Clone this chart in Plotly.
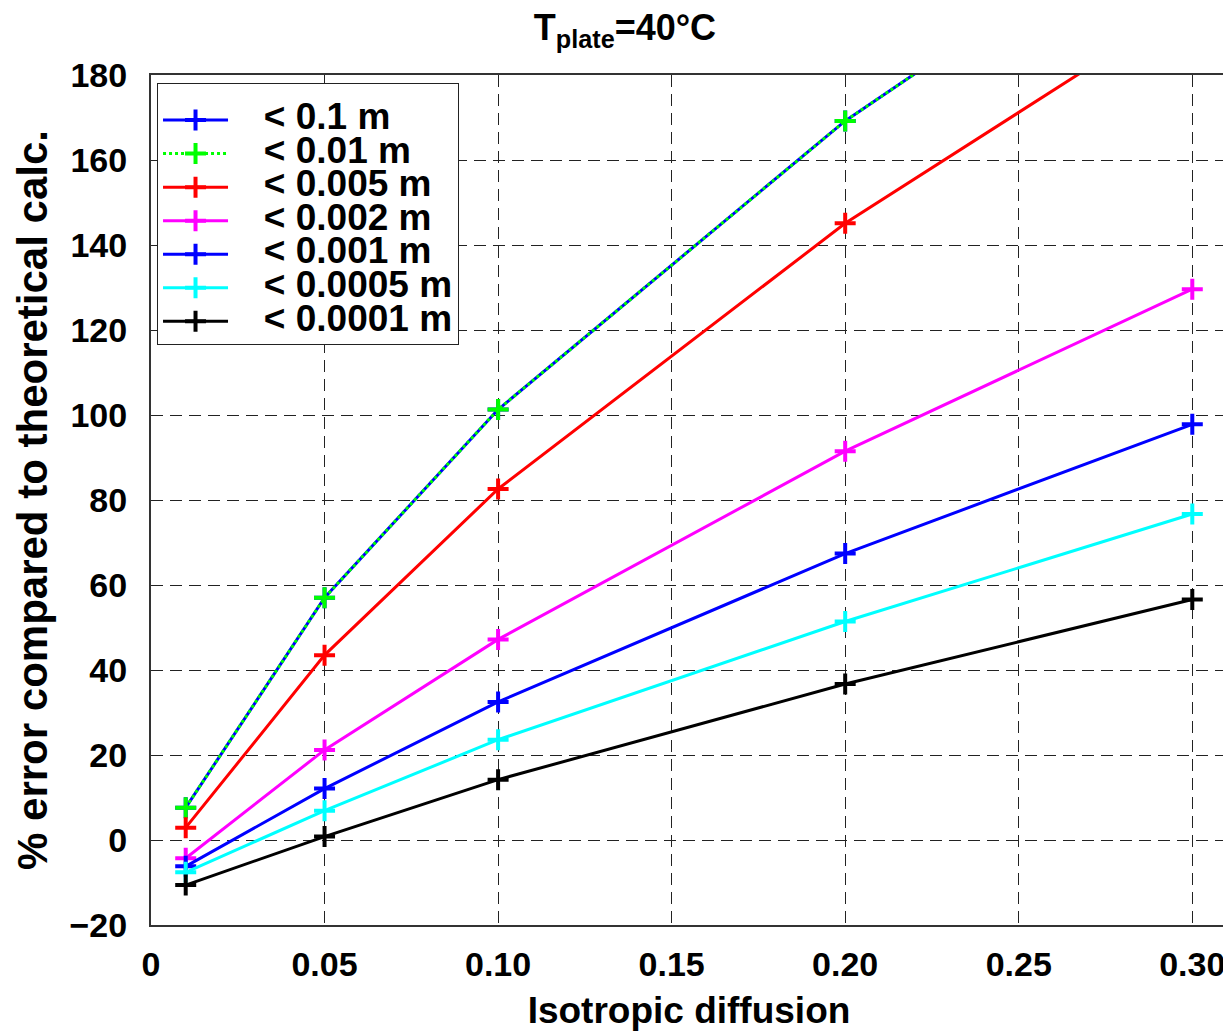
import plotly.graph_objects as go

# ---- data ----
x_vals = [0.01, 0.05, 0.10, 0.20, 0.30]
series_names = ["< 0.1 m", "< 0.01 m", "< 0.005 m", "< 0.002 m", "< 0.001 m", "< 0.0005 m", "< 0.0001 m"]
y_01 = [7.6, 57.0, 101.3, 169.2, 224.5]
y_001 = [7.6, 57.0, 101.3, 169.2, 224.5]
y_0005 = [2.9, 43.5, 82.6, 145.1, 197.3]
y_0002 = [-4.3, 21.2, 47.2, 91.5, 129.6]
y_0001 = [-6.2, 12.1, 32.5, 67.4, 97.8]
y_00005 = [-7.6, 6.9, 23.6, 51.4, 76.7]
y_00001 = [-10.6, 0.8, 14.2, 36.7, 56.6]
x_tickvals = [0, 0.05, 0.10, 0.15, 0.20, 0.25, 0.30]
x_ticktext = ["0", "0.05", "0.10", "0.15", "0.20", "0.25", "0.30"]
y_tickvals = [-20, 0, 20, 40, 60, 80, 100, 120, 140, 160, 180]

series = [
    (series_names[0], y_01, "#0000ff", "solid"),
    (series_names[1], y_001, "#00ff00", "dot"),
    (series_names[2], y_0005, "#ff0000", "solid"),
    (series_names[3], y_0002, "#ff00ff", "solid"),
    (series_names[4], y_0001, "#0000ff", "solid"),
    (series_names[5], y_00005, "#00ffff", "solid"),
    (series_names[6], y_00001, "#000000", "solid"),
]

FONT = "Liberation Sans, Arial, sans-serif"

fig = go.Figure()
for name, ys, col, dash in series:
    fig.add_trace(go.Scatter(
        x=x_vals, y=ys, mode="lines+markers",
        name='<span style="font-size:37px">&nbsp;&nbsp;&nbsp;' + name + '</span>',
        line=dict(color=col, width=3, dash=dash),
        marker=dict(symbol="cross-thin", size=15, color=col,
                    line=dict(width=4, color=col)),
        cliponaxis=True,
    ))

# page body has an 8px margin, so the figure is sized to fit the 1231x1031 window
fig.update_layout(
    width=1223, height=1023,
    margin=dict(l=143, r=2, t=67, b=102),
    paper_bgcolor="white", plot_bgcolor="white",
    font=dict(family=FONT, size=34, color="black", weight="bold"),
    title=dict(text="T<sub>plate</sub>=40°C", x=0.5045, xref="container",
               xanchor="center", y=0.981, yanchor="middle",
               font=dict(size=36, family=FONT, weight="bold")),
    showlegend=True,
    legend=dict(x=0.0056, y=0.9906, xanchor="left", yanchor="top",
                bgcolor="white", bordercolor="#222", borderwidth=1,
                font=dict(size=23.5, family=FONT, weight="bold"),
                title=dict(text=" ", font=dict(size=11)),
                itemwidth=65, tracegroupgap=0),
)
fig.update_xaxes(
    range=[0, 0.31], tickvals=x_tickvals, ticktext=x_ticktext,
    showgrid=True, gridcolor="#222", griddash="12px,7px", gridwidth=1,
    showline=True, mirror=True, linecolor="#333", linewidth=2,
    zeroline=False, ticks="", ticklabelstandoff=8,
    tickfont=dict(size=34, family=FONT, weight="bold"),
    title=dict(text="Isotropic diffusion", standoff=20,
               font=dict(size=37, family=FONT, weight="bold")),
)
fig.update_yaxes(
    range=[-20, 180], tickvals=y_tickvals,
    showgrid=True, gridcolor="#222", griddash="12px,7px", gridwidth=1,
    showline=True, mirror=True, linecolor="#333", linewidth=2,
    zeroline=False, ticks="", ticklabelstandoff=15,
    tickfont=dict(size=34, family=FONT, weight="bold"),
    title=dict(text="% error compared to theoretical calc.", standoff=9,
               font=dict(size=42, family=FONT, weight="bold")),
)

fig.write_html("out.html")
